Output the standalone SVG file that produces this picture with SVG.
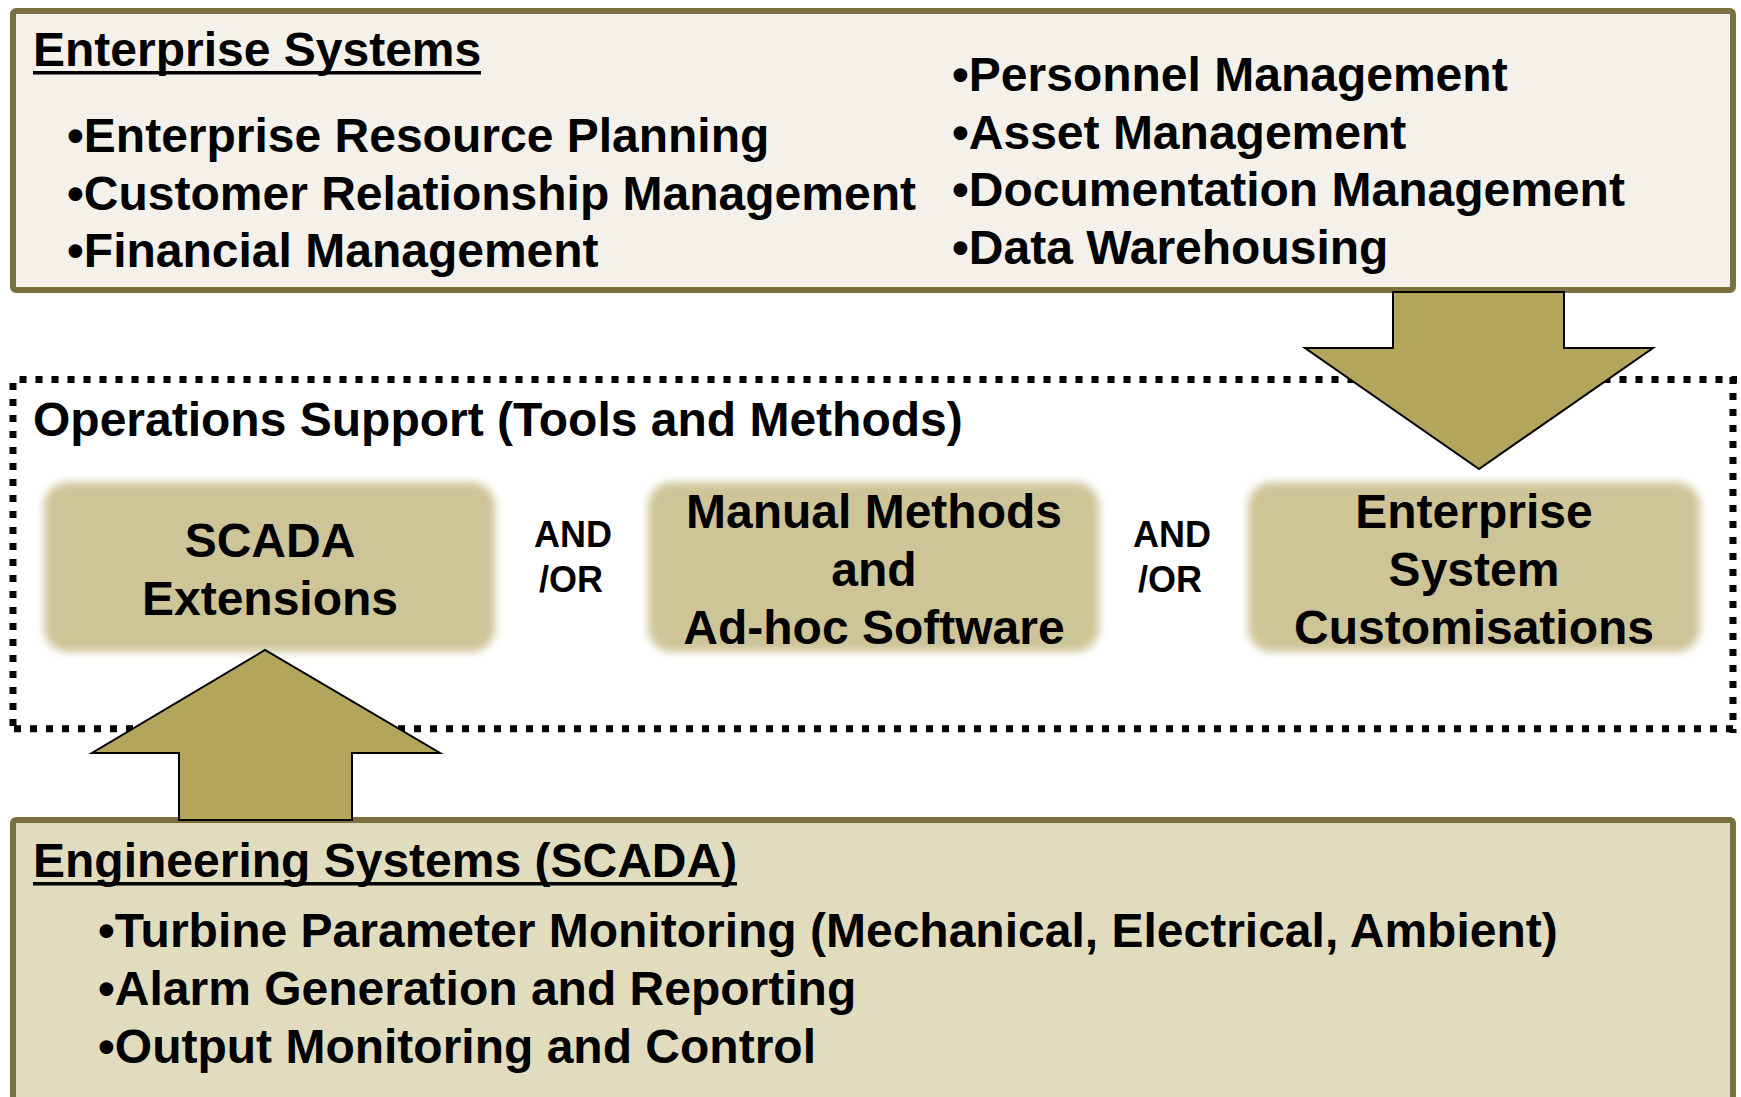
<svg xmlns="http://www.w3.org/2000/svg" width="1741" height="1097" viewBox="0 0 1741 1097">
<style>
text{font-family:"Liberation Sans",Arial,sans-serif;font-weight:bold;fill:#000}
.t{font-size:48px}
.c{font-size:48px;text-anchor:middle}
.ao{font-size:36px;text-anchor:middle}
.ul{stroke:#000;stroke-width:3.5}
.panel{stroke:#7a7040;stroke-width:6}
.arrow{fill:#b3a55c;stroke:#000;stroke-width:2;stroke-linejoin:miter}
.soft{fill:#cdc598;filter:url(#blur)}
.dot{fill:none;stroke:#000;stroke-width:7;stroke-dasharray:7 9}
</style>
<defs>
<filter id="blur" x="-5%" y="-10%" width="110%" height="120%"><feGaussianBlur stdDeviation="4"/></filter>
</defs>
<rect width="1741" height="1097" fill="#fff"/>
<g id="enterprise-systems">
<rect class="panel" x="13" y="11" width="1720" height="279" rx="3" fill="#f3f1e9"/>
<text class="t" x="33" y="66">Enterprise Systems</text>
<line class="ul" x1="33" y1="72.8" x2="481" y2="72.8"/>
<text class="t" x="67" y="152">•Enterprise Resource Planning</text>
<text class="t" x="67" y="210">•Customer Relationship Management</text>
<text class="t" x="67" y="267">•Financial Management</text>
<text class="t" x="952" y="91">•Personnel Management</text>
<text class="t" x="952" y="149">•Asset Management</text>
<text class="t" x="952" y="206">•Documentation Management</text>
<text class="t" x="952" y="264">•Data Warehousing</text>
</g>
<g id="engineering-systems">
<rect class="panel" x="13" y="820" width="1720" height="290" rx="3" fill="#e2dcbf"/>
<text class="t" x="33" y="877">Engineering Systems (SCADA)</text>
<line class="ul" x1="33" y1="883.8" x2="737" y2="883.8"/>
<text class="t" x="98" y="947">•Turbine Parameter Monitoring (Mechanical, Electrical, Ambient)</text>
<text class="t" x="98" y="1005">•Alarm Generation and Reporting</text>
<text class="t" x="98" y="1063">•Output Monitoring and Control</text>
</g>
<g id="operations-support">
<path class="dot" d="M19.5 379.5H1737"/>
<path class="dot" d="M1733 377V733"/>
<path class="dot" d="M14 728.7H1737"/>
<path class="dot" d="M13 383V733"/>
<text class="t" x="33" y="436">Operations Support (Tools and Methods)</text>
</g>
<g id="scada-extensions">
<rect class="soft" x="44" y="482" width="451" height="170" rx="24"/>
<text class="c" x="270" y="557">SCADA</text>
<text class="c" x="270" y="615">Extensions</text>
</g>
<g id="and-or-1"><text class="ao" x="573" y="547">AND</text><text class="ao" x="571" y="592">/OR</text></g>
<g id="manual-methods">
<rect class="soft" x="648" y="482" width="451" height="170" rx="24"/>
<text class="c" x="874" y="528">Manual Methods</text>
<text class="c" x="874" y="586">and</text>
<text class="c" x="874" y="644">Ad-hoc Software</text>
</g>
<g id="and-or-2"><text class="ao" x="1172" y="547">AND</text><text class="ao" x="1170" y="592">/OR</text></g>
<g id="enterprise-customisations">
<rect class="soft" x="1248" y="482" width="452" height="170" rx="24"/>
<text class="c" x="1474" y="528">Enterprise</text>
<text class="c" x="1474" y="586">System</text>
<text class="c" x="1474" y="644">Customisations</text>
</g>
<g id="connectors">
<polygon class="arrow" points="1393,292 1564,292 1564,348 1653,348 1479,469 1305,348 1393,348"/>
<polygon class="arrow" points="179,820 352,820 352,753 440,753 265,650 92,753 179,753"/>
</g>
</svg>
